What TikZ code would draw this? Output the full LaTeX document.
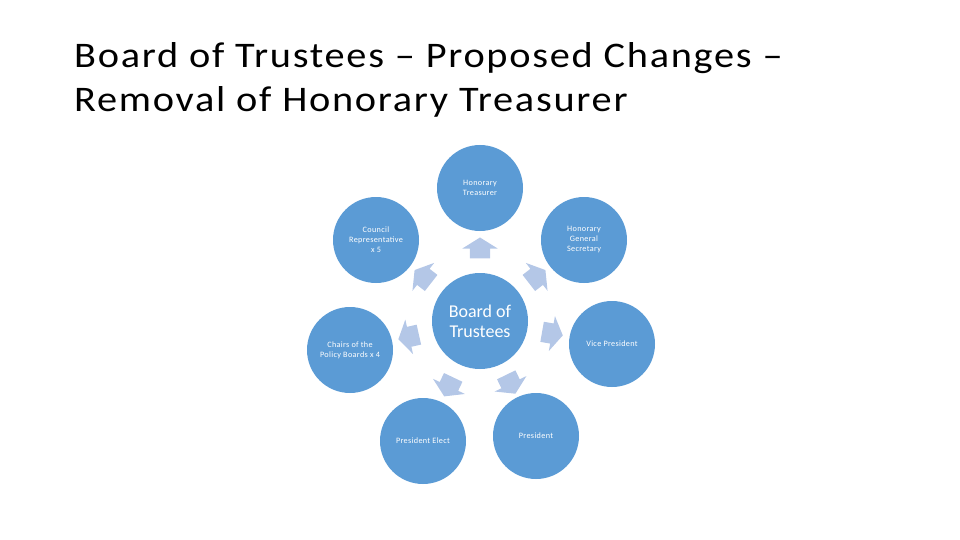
\documentclass[tikz,border=0pt]{standalone}
\usepackage{fontspec}
\setmainfont{Carlito}
\newfontfamily\titlefont[FakeStretch=1.12,LetterSpace=4.8]{Carlito}
\newfontfamily\labelfont[LetterSpace=4]{Carlito}
\usetikzlibrary{shapes.arrows}
\definecolor{circblue}{RGB}{91,155,213}
\definecolor{arrowblue}{RGB}{180,199,231}

\begin{document}
\begin{tikzpicture}[x=1pt,y=-1pt,
  member/.style={circle,fill=circblue,minimum size=86pt,inner sep=0pt,text=white,align=center,font=\labelfont\fontsize{8.2}{10}\selectfont},
  board/.style={circle,fill=circblue,minimum size=96pt,inner sep=0pt,text=white,align=center,font=\fontsize{18}{20}\selectfont},
  outarrow/.style={single arrow,fill=arrowblue,inner xsep=0pt,inner ysep=10pt,single arrow head extend=7.5pt,single arrow tip angle=116,minimum height=21pt,sloped,allow upside down,pos=0.52},
  heading/.style={anchor=base west,inner sep=0pt,font=\titlefont\fontsize{36}{44}\selectfont}]
  \useasboundingbox (0,0) rectangle (960,540);
  % title
  \node[heading] (title1) at (74,68) {Board of Trustees – Proposed Changes –};
  \node[heading] (title2) at (74,112) {Removal of Honorary Treasurer};
  % centre and the seven members round it
  \node[board] (bot) at (480,321) {Board of\\Trustees};
  \node[member] (tre) at (480,188) {Honorary\\Treasurer};
  \node[member] (sec) at (584,240) {Honorary\\General\\Secretary};
  \node[member] (vic) at (612,344) {Vice President};
  \node[member] (pre) at (536,436) {President};
  \node[member] (ele) at (423,441) {President Elect};
  \node[member] (cha) at (350,350) {Chairs of the\\Policy Boards x 4};
  \node[member] (cou) at (376,240) {Council\\Representative\\x 5};
  % block arrows pointing out
  \path (bot) -- (tre) node[outarrow] {};
  \path (bot) -- (sec) node[outarrow] {};
  \path (bot) -- (vic) node[outarrow] {};
  \path (bot) -- (pre) node[outarrow] {};
  \path (bot) -- (ele) node[outarrow] {};
  \path (bot) -- (cha) node[outarrow] {};
  \path (bot) -- (cou) node[outarrow] {};
\end{tikzpicture}
\end{document}
